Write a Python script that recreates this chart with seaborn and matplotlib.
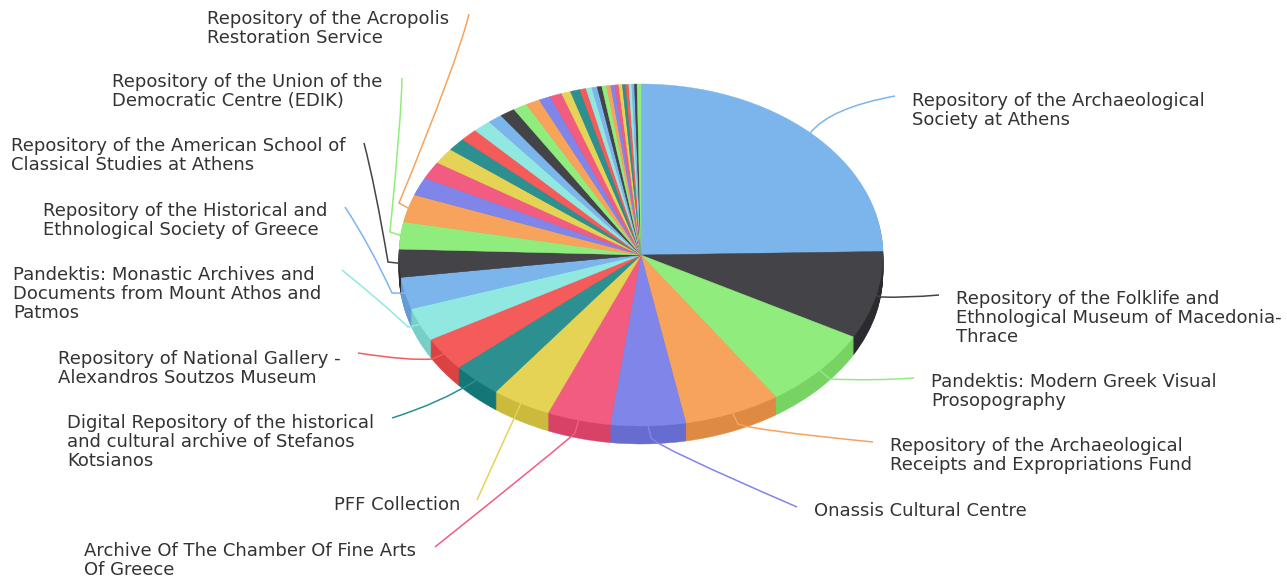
import numpy as np
import seaborn as sns
import matplotlib.pyplot as plt
from matplotlib.path import Path
from matplotlib.patches import PathPatch

# share of each repository, clockwise from 12 o'clock
shares = [24.67, 8.28, 7.64, 6.44, 5.00, 4.25, 3.97, 3.33, 3.19, 3.14, 3.00, 2.64, 2.56, 2.61,
          1.72, 1.64, 1.50, 1.22, 1.19, 1.22, 0.97, 1.03, 0.94, 0.94, 0.78, 0.81, 0.61, 0.64,
          0.42, 0.39, 0.36, 0.31, 0.31, 0.28, 0.28, 0.25, 0.24, 0.22, 0.21, 0.19, 0.18, 0.17, 0.26]

# only the first 14 slices get a label
labels = ['Repository of the Archaeological\nSociety at Athens',
          'Repository of the Folklife and\nEthnological Museum of Macedonia-\nThrace',
          'Pandektis: Modern Greek Visual\nProsopography',
          'Repository of the Archaeological\nReceipts and Expropriations Fund',
          'Onassis Cultural Centre',
          'Archive Of The Chamber Of Fine Arts\nOf Greece',
          'PFF Collection',
          'Digital Repository of the historical\nand cultural archive of Stefanos\nKotsianos',
          'Repository of National Gallery -\nAlexandros Soutzos Museum',
          'Pandektis: Monastic Archives and\nDocuments from Mount Athos and\nPatmos',
          'Repository of the Historical and\nEthnological Society of Greece',
          'Repository of the American School of\nClassical Studies at Athens',
          'Repository of the Union of the\nDemocratic Centre (EDIK)',
          'Repository of the Acropolis\nRestoration Service']

# top left of each label, in image pixels
label_pos = [(912, 92), (956, 290), (931, 373), (890, 437), (814, 502), (84, 542), (334, 496),
             (67, 414), (58, 350), (13, 266), (43, 202), (11, 137), (112, 73), (207, 10)]

# connector waypoints in image pixels, last two are curve control and tip
connectors = [[(830, 108), (895, 96)],
              [(881, 297), (905, 298), (939, 295)],
              [(830, 379), (870, 381), (914, 378)],
              [(738, 424), (752, 430), (873, 442)],
              [(651, 438), (658, 447), (797, 507)],
              [(575, 433), (565, 443), (435, 547)],
              [(499, 451), (477, 500)],
              [(440, 403), (392, 418)],
              [(432, 359), (410, 361), (358, 353)],
              [(408, 327), (383, 303), (342, 270)],
              [(392, 293), (370, 245), (345, 207)],
              [(388, 262), (375, 185), (364, 143)],
              [(390, 232), (402, 110), (402, 78)],
              [(399, 203), (458, 60), (469, 14)]]

hc_colors = ['#7cb5ec', '#434348', '#90ed7d', '#f7a35c', '#8085e9',
             '#f15c80', '#e4d354', '#2b908f', '#f45b5b', '#91e8e1']

# pie geometry in image pixels
cx, cy = 641, 255
rx, ry = 242, 171
depth_px = 18
W, H = 1287, 578


def to_data(p):
    return (p[0] - cx) / rx, (cy - p[1]) / ry


def draw_pie(colors, center=(0, 0)):
    wedges, _ = ax.pie(shares, colors=colors, startangle=90, counterclock=False, radius=1, center=center)
    for wedge in wedges:
        # hide the hairline seams between slices
        wedge.set_edgecolor(wedge.get_facecolor())
        wedge.set_linewidth(0.3)
    return wedges


sns.set_theme(style='white')
plt.rcParams['font.family'] = ['DejaVu Sans']

palette = sns.color_palette(hc_colors, n_colors=len(shares))
side_colors = [tuple(max(c - 0.1, 0) for c in col) for col in palette]

fig, ax = plt.subplots(figsize=(W / 100, H / 100), dpi=100)
ax.set_position([0, 0, 1, 1])

# side walls: same pie stacked from the bottom up
for d in range(depth_px, 0, -1):
    draw_pie(side_colors, center=(0, -d / ry))

wedges = draw_pie(palette)

# pie() forces equal aspect, the tilt needs it squashed
ax.set_aspect('auto')
ax.set_xlim(to_data((0, 0))[0], to_data((W, 0))[0])
ax.set_ylim(to_data((0, H))[1], to_data((0, 0))[1])
ax.set_frame_on(False)

for i, label in enumerate(labels):
    w = wedges[i]
    mid = np.deg2rad((w.theta1 + w.theta2) / 2)
    start = (np.cos(mid), np.sin(mid))
    pts = [to_data(p) for p in connectors[i]]
    verts = [start] + pts
    codes = [Path.MOVETO] + [Path.LINETO] * (len(pts) - 2) + [Path.CURVE3, Path.CURVE3]
    ax.add_patch(PathPatch(Path(verts, codes), fc='none', ec=palette[i], lw=1.1, zorder=5))
    x, y = to_data(label_pos[i])
    ax.text(x, y, label, ha='left', va='top', fontsize=13, color='#333333', linespacing=1.07)

fig.savefig('out.png', dpi=100)
